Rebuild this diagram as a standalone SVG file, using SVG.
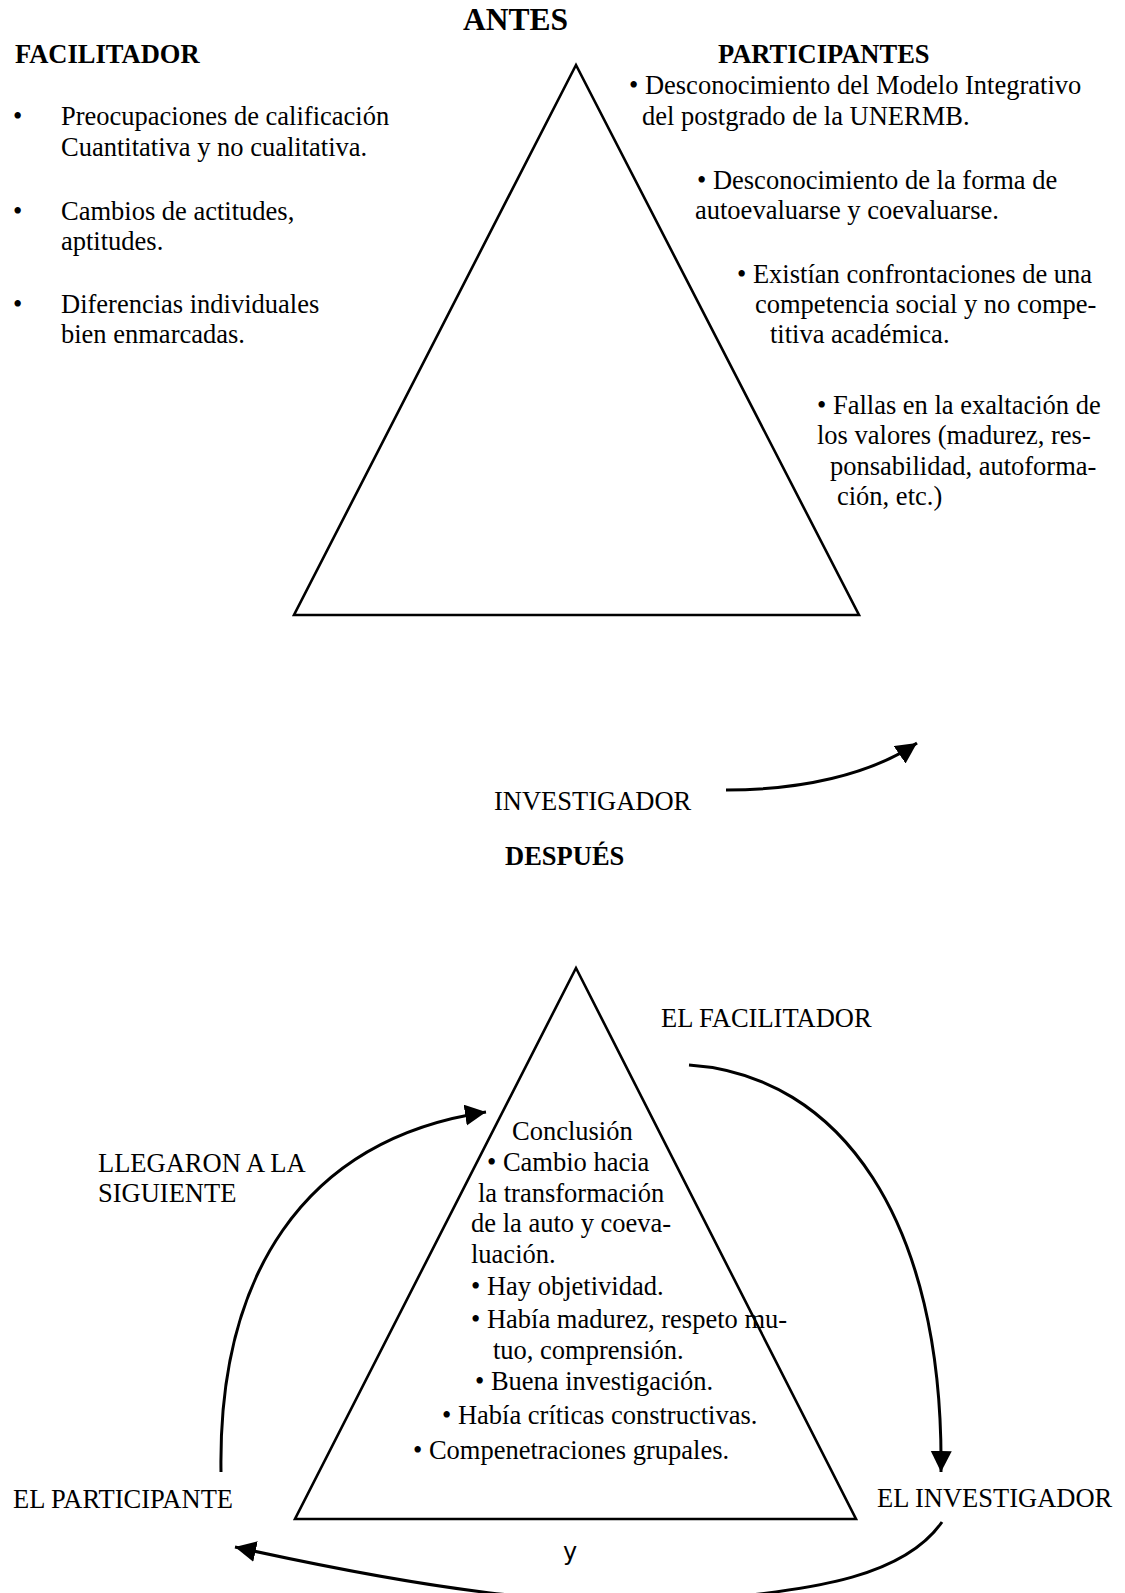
<svg xmlns="http://www.w3.org/2000/svg" width="1125" height="1593" viewBox="0 0 1125 1593">
<style>
text{font-family:"Liberation Serif","Times New Roman",serif;font-size:26.5px;fill:#000}
.b{font-weight:bold}
.tri{fill:none;stroke:#000;stroke-width:2.6;stroke-linejoin:miter}
.arr{fill:none;stroke:#000;stroke-width:3}
.y{font-family:"DejaVu Sans","Liberation Sans",sans-serif;font-size:24px}
</style>
<defs>
<marker id="ah" markerUnits="userSpaceOnUse" markerWidth="24" markerHeight="24" refX="21" refY="10.5" orient="auto">
<path d="M0,0 L21,10.5 L0,21 z" fill="#000"/>
</marker>
</defs>
<rect width="1125" height="1593" fill="#fff"/>

<g id="antes">
<text class="b" x="463" y="30" style="font-size:31.5px">ANTES</text>
<polygon class="tri" points="576,65 294,615 859,615"/>
</g>

<g id="facilitador">
<text class="b" x="15" y="63">FACILITADOR</text>
<text x="13" y="125">•</text><text x="61" y="125">Preocupaciones de calificación</text>
<text x="61" y="156">Cuantitativa y no cualitativa.</text>
<text x="13" y="220">•</text><text x="61" y="220">Cambios de actitudes,</text>
<text x="61" y="250">aptitudes.</text>
<text x="13" y="313">•</text><text x="61" y="313">Diferencias individuales</text>
<text x="61" y="343">bien enmarcadas.</text>
</g>

<g id="participantes">
<text class="b" x="718" y="63">PARTICIPANTES</text>
<text x="629" y="94">• Desconocimiento del Modelo Integrativo</text>
<text x="642" y="125">del postgrado de la UNERMB.</text>
<text x="697" y="189">• Desconocimiento de la forma de</text>
<text x="695" y="219">autoevaluarse y coevaluarse.</text>
<text x="737" y="283">• Existían confrontaciones de una</text>
<text x="755" y="313">competencia social y no compe-</text>
<text x="770" y="343">titiva académica.</text>
<text x="817" y="414">• Fallas en la exaltación de</text>
<text x="817" y="444">los valores (madurez, res-</text>
<text x="830" y="475">ponsabilidad, autoforma-</text>
<text x="837" y="505">ción, etc.)</text>
</g>

<g id="investigador-top">
<text x="494" y="810">INVESTIGADOR</text>
</g>

<g id="despues">
<text class="b" x="505" y="865">DESPUÉS</text>
<polygon class="tri" points="576,968 295,1519 856,1519"/>
<text x="512" y="1140">Conclusión</text>
<text x="487" y="1171">• Cambio hacia</text>
<text x="478" y="1202">la transformación</text>
<text x="471" y="1232">de la auto y coeva-</text>
<text x="471" y="1263">luación.</text>
<text x="471" y="1295">• Hay objetividad.</text>
<text x="471" y="1328">• Había madurez, respeto mu-</text>
<text x="493" y="1359">tuo, comprensión.</text>
<text x="475" y="1390">• Buena investigación.</text>
<text x="442" y="1424">• Había críticas constructivas.</text>
<text x="413" y="1459">• Compenetraciones grupales.</text>
</g>

<g id="el-facilitador"><text x="661" y="1027">EL FACILITADOR</text></g>
<g id="llegaron"><text x="98" y="1172">LLEGARON A LA</text><text x="98" y="1202">SIGUIENTE</text></g>
<g id="el-participante"><text x="13" y="1508">EL PARTICIPANTE</text></g>
<g id="el-investigador"><text x="877" y="1507">EL INVESTIGADOR</text></g>
<g id="y-label"><text class="y" x="563" y="1560">y</text></g>

<g id="connectors">
<path class="arr" marker-end="url(#ah)" d="M726,790 C800,790 870,775 917,743"/>
<path class="arr" marker-end="url(#ah)" d="M689,1065 C840,1075 944,1220 941,1472"/>
<path class="arr" marker-end="url(#ah)" d="M221,1472 C218,1280 300,1140 486,1112"/>
<path class="arr" marker-end="url(#ah)" d="M942,1522 C905,1575 820,1590 700,1600 C560,1608 430,1590 235,1547"/>
</g>
</svg>
